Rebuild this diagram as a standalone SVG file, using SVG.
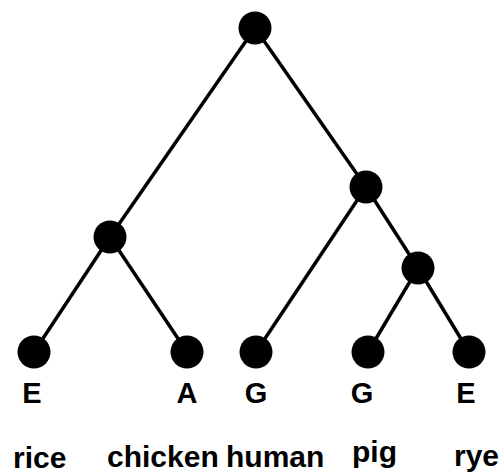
<svg xmlns="http://www.w3.org/2000/svg" width="504" height="475" viewBox="0 0 504 475">
<style>
.e{stroke:#000;stroke-width:3.5;fill:none}
.n{fill:#000}
.l{font-family:"Liberation Sans",Arial,sans-serif;font-weight:bold;font-size:29px;text-anchor:middle;fill:#000}
.t{font-family:"Liberation Sans",Arial,sans-serif;font-weight:bold;font-size:30px;fill:#000}
</style>
<rect width="504" height="475" fill="#fff"/>
<g id="edges">
<line class="e" x1="255" y1="28" x2="110" y2="237"/>
<line class="e" x1="255" y1="28" x2="366" y2="187"/>
<line class="e" x1="110" y1="237" x2="34" y2="352"/>
<line class="e" x1="110" y1="237" x2="187" y2="352"/>
<line class="e" x1="366" y1="187" x2="256" y2="352"/>
<line class="e" x1="366" y1="187" x2="418" y2="268"/>
<line class="e" x1="418" y1="268" x2="368" y2="352"/>
<line class="e" x1="418" y1="268" x2="469" y2="352"/>
</g>
<g id="root"><circle class="n" cx="255" cy="28" r="16.5"/></g>
<g id="left"><circle class="n" cx="110" cy="237" r="16.5"/></g>
<g id="right"><circle class="n" cx="366" cy="187" r="16.5"/></g>
<g id="rightlow"><circle class="n" cx="418" cy="268" r="16.5"/></g>
<g id="rice"><circle class="n" cx="34" cy="352" r="16.5"/><text class="l" x="32" y="403">E</text><text class="t" x="13" y="468">rice</text></g>
<g id="chicken"><circle class="n" cx="187" cy="352" r="16.5"/><text class="l" x="187" y="403">A</text><text class="t" x="107" y="467">chicken</text></g>
<g id="human"><circle class="n" cx="256" cy="352" r="16.5"/><text class="l" x="256" y="403">G</text><text class="t" x="226" y="467">human</text></g>
<g id="pig"><circle class="n" cx="368" cy="352" r="16.5"/><text class="l" x="362" y="403">G</text><text class="t" x="352" y="462">pig</text></g>
<g id="rye"><circle class="n" cx="469" cy="352" r="16.5"/><text class="l" x="466" y="403">E</text><text class="t" x="454" y="466">rye</text></g>
</svg>
